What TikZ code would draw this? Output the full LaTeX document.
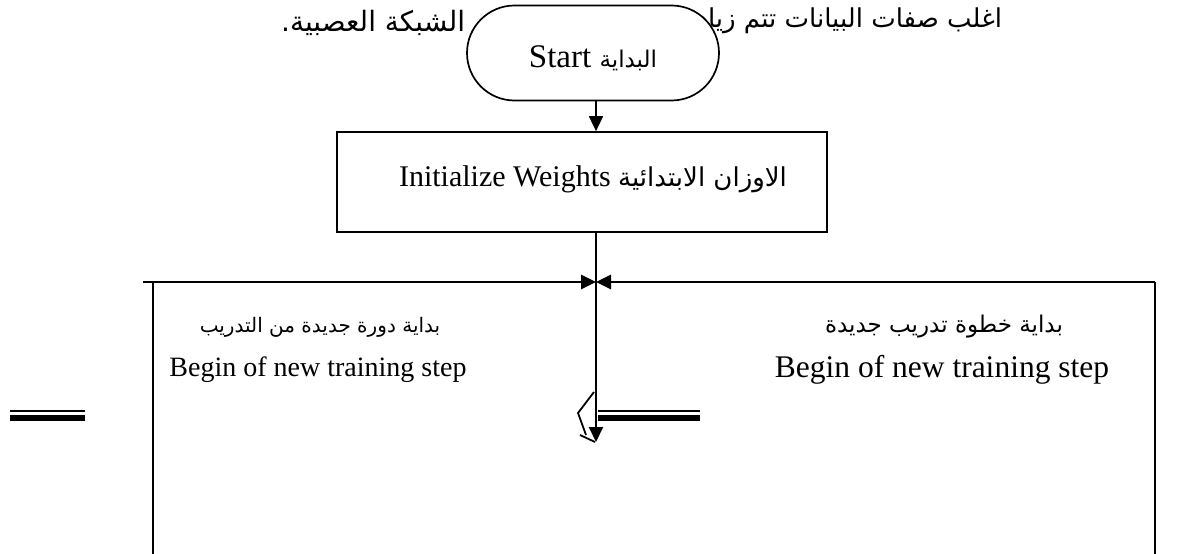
\documentclass[tikz,border=0pt]{standalone}
\usepackage{fontspec}
\setmainfont{Liberation Serif}
\newfontfamily\arabicfont[Script=Arabic]{DejaVu Sans}
\TeXXeTstate=1
\usetikzlibrary{arrows.meta,shapes.misc,calc}
\begin{document}
\begin{tikzpicture}[x=1pt,y=-1pt,
  line width=1.7pt,
  tip/.style={-{Triangle[length=15pt,width=14pt]}},
  label text/.style={font=\fontsize{28}{34}\selectfont, inner sep=0pt},
  arlabel/.style={font=\arabicfont\fontsize{20}{26}\selectfont, inner sep=0pt},
  note/.style={font=\arabicfont\fontsize{26}{30}\selectfont, inner sep=0pt, anchor=east},
  terminal/.style={draw, fill=white, rounded rectangle, minimum width=252pt, minimum height=95pt, inner sep=0pt},
  process/.style={draw, fill=white, rectangle, minimum width=490pt, minimum height=100pt, inner sep=0pt},
  bar/.style={line width=#1, line cap=butt}]
\useasboundingbox (0,0) rectangle (1186,554);

% sentence running behind the start symbol
\node[note] (noteR) at (1003,21) {\beginR اغلب صفات البيانات تتم زيادة\endR};
\node[note, font=\arabicfont\fontsize{28}{32}\selectfont] (noteL) at (466,23) {\beginR الشبكة العصبية.\endR};

% start terminal and weight initialisation
\node[terminal, font=\fontsize{33}{38}\selectfont, text height=32pt] (start) at (593,53) {Start {\arabicfont\fontsize{23}{26}\selectfont\beginR البداية\endR}};
\node[process, font=\fontsize{30}{36}\selectfont, text depth=12pt] (init) at (582,182) {\hspace*{22pt}Initialize Weights {\arabicfont\fontsize{26}{30}\selectfont\beginR الاوزان الابتدائية\endR}};
\draw[tip] (start.south -| 596,0) -- (init.north -| 596,0);

% loop frame
\coordinate (join) at (596,282);
\coordinate (lfar) at (143,282);
\coordinate (ltop) at (153,282);
\coordinate (lbot) at (153,554);
\coordinate (rtop) at (1155,282);
\coordinate (rbot) at (1155,554);
\draw[line width=2.8pt, tip] (lfar) -- (join);
\draw[line width=2.4pt] (rbot) -- (rtop);
\draw[line width=2.8pt, tip] (rtop) -- (join);
\draw[line width=2.2pt] (ltop) -- (lbot);

% main flow into the loop
\coordinate (down) at (596,442);
\draw[line width=2pt, tip] (init.south -| 596,0) -- (down);

% step labels
\node[arlabel] (stepLa) at (320,327) {\beginR بداية دورة جديدة من التدريب\endR};
\node[label text] (stepLe) at (318,370) {Begin of new training step};
\node[arlabel, font=\arabicfont\fontsize{23}{28}\selectfont] (stepRa) at (944,327) {\beginR بداية خطوة تدريب جديدة\endR};
\node[label text, font=\fontsize{31.5}{36}\selectfont] (stepRe) at (942,370) {Begin of new training step};

% equal-sign bars
\coordinate (b1a) at (10,411);
\coordinate (b1b) at (85,411);
\draw[bar=2pt] (b1a) -- (b1b);
\draw[bar=6pt] ($(b1a)+(0,7)$) -- ($(b1b)+(0,7)$);
\coordinate (b2a) at (598,411);
\coordinate (b2b) at (700,411);
\draw[bar=2pt] (b2a) -- (b2b);
\draw[bar=6pt] ($(b2a)+(0,7)$) -- ($(b2b)+(0,7)$);

% bent stub beside the arrow
\coordinate (z1) at (594,392);
\coordinate (z2) at (578,413);
\coordinate (z3) at (586,435);
\coordinate (z4) at (580,435);
\coordinate (z5) at (595,442);
\draw[line width=1.8pt] (z1) -- (z2) -- (z3);
\draw[line width=1.8pt] (z4) -- (z5);
\end{tikzpicture}
\end{document}
